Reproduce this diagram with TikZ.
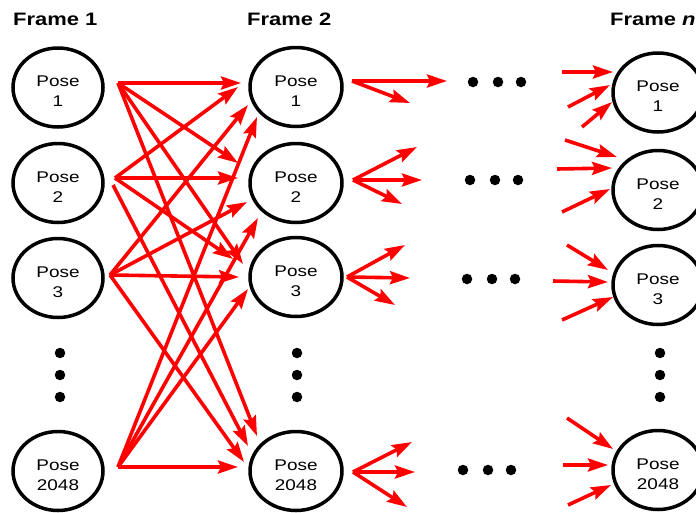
\documentclass[tikz,border=0pt]{standalone}
\usepackage{fontspec}
\setmainfont{Liberation Sans}[FakeStretch=1.22]
\usetikzlibrary{arrows.meta,shapes.geometric,calc}

\begin{document}
\begin{tikzpicture}[x=1pt,y=-1pt,
  pose/.style={ellipse,draw=black,line width=3.5pt,minimum width=90pt,minimum height=79pt,inner sep=0pt},
  posetext/.style={align=center,font=\fontsize{15.5}{20}\selectfont,inner sep=0pt},
  title/.style={anchor=base west,font=\fontsize{18}{20}\selectfont\bfseries,inner sep=0pt},
  link/.style={red,line width=3.6pt,-{Stealth[length=20pt,width=13pt,inset=3pt]}},
  dot/.style={circle,fill=black,inner sep=0pt,minimum size=10.5pt}]

\useasboundingbox (0,0) rectangle (696,512);

% column titles
\node[title] (f1) at (13,25) {Frame 1};
\node[title] (f2) at (247,25) {Frame 2};
\node[title] (fn) at (610,25) {Frame \textit{n}};

% pose states of each frame
\node[pose] (a1) at (58,87.5) {};
\node[pose] (a2) at (58,183) {};
\node[pose] (a3) at (58,278) {};
\node[pose] (a4) at (58,471) {};
\node[pose,minimum width=92pt] (b1) at (296,87) {};
\node[pose,minimum width=92pt] (b2) at (296,183) {};
\node[pose,minimum width=92pt] (b3) at (296,277) {};
\node[pose,minimum width=92pt] (b4) at (296,471) {};
\node[pose] (c1) at (658,92.5) {};
\node[pose] (c2) at (658,190) {};
\node[pose] (c3) at (658,285) {};
\node[pose] (c4) at (658,470) {};

\foreach \n/\t in {a1/1,a2/2,a3/3,a4/2048,b1/1,b2/2,b3/3,b4/2048,c1/1,c2/2,c3/3,c4/2048}
  \node[posetext] (\n t) at ($(\n)+(0,4)$) {Pose\\\t};

% vertical ellipses
\foreach \x/\c in {60/a,297/b,660/c}
  \foreach \y/\k in {353/1,375/2,397/3}
    \node[dot] (v\c\k) at (\x,\y) {};

% horizontal ellipses between frame 2 and frame n
\foreach \r/\y/\x in {1/82/473,2/180/470,3/279/467,4/470/463}{
  \node[dot] (h\r a) at (\x,\y) {};
  \node[dot] (h\r b) at (\x+25,\y) {};
  \node[dot] (h\r c) at (\x+48,\y) {};
}

% start points on the frame 1 side
\coordinate (s1) at (118,83);
\coordinate (s2) at (115,178);
\coordinate (s2b) at (113,185);
\coordinate (s3) at (110,275);
\coordinate (s4) at (118,467);

% arrow tips at frame 2
\coordinate (p1s1) at (241,83);
\coordinate (p1s2) at (238,87);
\coordinate (p1s3) at (248,105);
\coordinate (p1s4) at (257,117);
\coordinate (p2s1) at (238,163);
\coordinate (p2s2) at (238,178);
\coordinate (p2s3) at (247,202);
\coordinate (p2s4) at (258,218);
\coordinate (p3s1) at (243,264);
\coordinate (p3s2) at (233,259);
\coordinate (p3s3) at (239,277);
\coordinate (p3s4) at (248,289);
\coordinate (p4s1) at (257,436);
\coordinate (p4s2) at (248,446);
\coordinate (p4s3) at (244,462);
\coordinate (p4s4) at (238,467);

% every pose of frame 1 to every pose of frame 2
\foreach \s/\src in {1/s1,2/s2,3/s3,4/s4}
  \foreach \p in {1,2,3}
    \draw[link] (\src) -- (p\p s\s);
\draw[link] (s1) -- (p4s1);
\draw[link] (s2b) -- (p4s2);
\draw[link] (s3) -- (p4s3);
\draw[link] (s4) -- (p4s4);

% fan-out from frame 2
\coordinate (r1) at (352,81);
\coordinate (r2) at (353,180);
\coordinate (r3) at (347,277);
\coordinate (r4) at (353,472);
\coordinate (r1a) at (447,81);
\coordinate (r1b) at (410,103);
\coordinate (r2a) at (417,147);
\coordinate (r2b) at (422,180);
\coordinate (r2c) at (402,204);
\coordinate (r3a) at (405,245);
\coordinate (r3b) at (410,278);
\coordinate (r3c) at (395,305);
\coordinate (r4a) at (412,442);
\coordinate (r4b) at (415,472);
\coordinate (r4c) at (407,507);
\draw[link] (r1) -- (r1a);
\draw[link] (r1) -- (r1b);
\foreach \r in {2,3,4}
  \foreach \k in {a,b,c}
    \draw[link] (r\r) -- (r\r\k);

% fan-in to frame n
\coordinate (q1a) at (562,72);   \coordinate (e1a) at (613,72);
\coordinate (q1b) at (568,107);  \coordinate (e1b) at (610,85);
\coordinate (q1c) at (582,127);  \coordinate (e1c) at (612,102);
\coordinate (q2a) at (565,140);  \coordinate (e2a) at (617,157);
\coordinate (q2b) at (557,169);  \coordinate (e2b) at (612,168);
\coordinate (q2c) at (562,212);  \coordinate (e2c) at (610,189);
\coordinate (q3a) at (567,245);  \coordinate (e3a) at (608,270);
\coordinate (q3b) at (553,281);  \coordinate (e3b) at (608,282);
\coordinate (q3c) at (562,320);  \coordinate (e3c) at (613,297);
\coordinate (q4a) at (567,418);  \coordinate (e4a) at (613,449);
\coordinate (q4b) at (563,465);  \coordinate (e4b) at (608,465);
\coordinate (q4c) at (568,505);  \coordinate (e4c) at (611,485);
\foreach \r in {1,2,3,4}
  \foreach \k in {a,b,c}
    \draw[link] (q\r\k) -- (e\r\k);

\end{tikzpicture}
\end{document}
